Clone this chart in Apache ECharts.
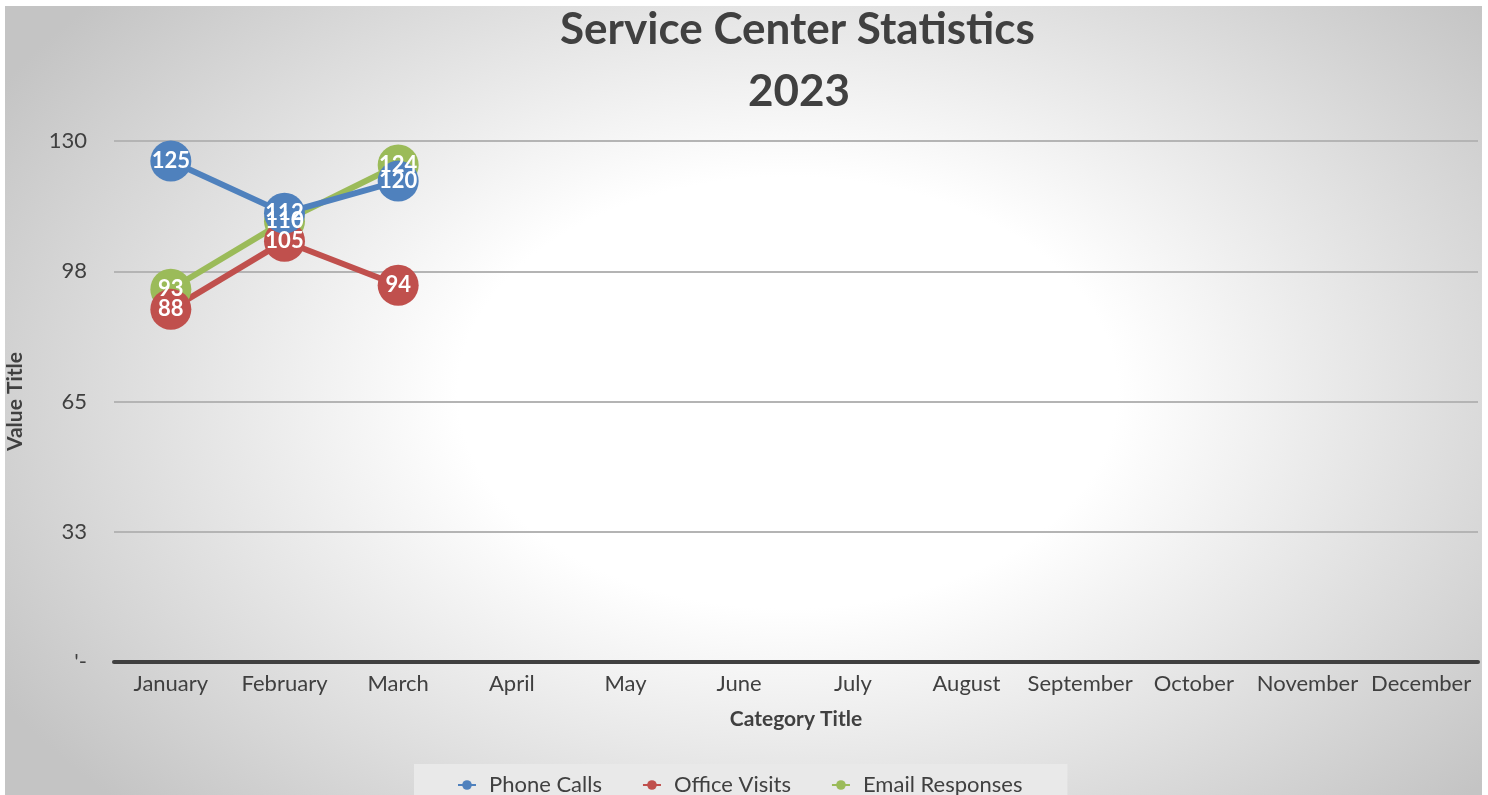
<!DOCTYPE html>
<html style="height: 100%">
<head>
    <meta charset="utf-8">
    <script src="https://cdn.jsdelivr.net/npm/echarts@6/dist/echarts.min.js"></script>
    <title>Service Center Statistics 2023</title>
</head>
<body style="height: 100%; margin: 0; background: #fff; overflow: hidden">
<div id="container" style="position: absolute; left: 5px; top: 6px; width: 1477px; height: 789px;
     background: radial-gradient(ellipse 62% 76% at 53% 49%, #ffffff 36%, #c4c4c4 100%);"></div>
<script type="text/javascript">
    let months = ['January', 'February', 'March', 'April', 'May', 'June',
        'July', 'August', 'September', 'October', 'November', 'December']
    let phoneCalls = [125, 112, 120]
    let officeVisits = [88, 105, 94]
    let emailResponses = [93, 110, 124]
    let yTicks = [0, 32.5, 65, 97.5, 130]

    let font = 'Lato'
    let textColor = '#404040'

    function makeSeries(name, values, color) {
        return {
            name: name,
            type: 'line',
            data: values,
            symbol: 'circle',
            symbolSize: 41,
            lineStyle: {color: color, width: 6},
            itemStyle: {color: color},
            label: {
                show: true,
                position: 'inside',
                color: '#fff',
                fontFamily: font,
                fontWeight: 'bold',
                fontSize: 22
            }
        }
    }

    let dom = document.getElementById("container")
    let chart = echarts.init(dom)
    chart.setOption({
        backgroundColor: 'transparent',
        animation: false,
        title: [{
            text: 'Service Center Statistics',
            left: 555,
            top: 2,
            padding: 0,
            textStyle: {fontFamily: font, fontWeight: 'bold', fontSize: 44, color: textColor, lineHeight: 44}
        }, {
            text: '2023',
            left: 743,
            top: 64,
            padding: 0,
            textStyle: {fontFamily: font, fontWeight: 'bold', fontSize: 44, color: textColor, lineHeight: 44}
        }],
        legend: {
            data: ['Phone Calls', 'Office Visits', 'Email Responses'],
            left: 409,
            top: 758,
            padding: [10, 45, 12, 43],
            itemGap: 40,
            itemWidth: 18,
            itemHeight: 12,
            backgroundColor: '#e9e9e9',
            textStyle: {fontFamily: font, fontSize: 22, color: textColor, padding: [0, 0, 0, 8]}
        },
        grid: {left: 109, right: 4, top: 135, bottom: 133, outerBoundsMode: 'none', containLabel: false},
        xAxis: {
            type: 'category',
            data: months,
            name: 'Category Title',
            nameLocation: 'middle',
            nameGap: 47,
            nameTextStyle: {fontFamily: font, fontWeight: 'bold', fontSize: 21, color: textColor},
            axisLine: {lineStyle: {color: '#404040', width: 4}},
            axisTick: {show: false},
            axisLabel: {fontFamily: font, fontSize: 22, color: textColor, margin: 11, interval: 0}
        },
        yAxis: {
            type: 'value',
            min: yTicks[0],
            max: yTicks[yTicks.length - 1],
            interval: 32.5,
            name: 'Value Title',
            nameLocation: 'middle',
            nameGap: 88,
            nameRotate: 90,
            nameTextStyle: {fontFamily: font, fontWeight: 'bold', fontSize: 21, color: textColor},
            axisLine: {show: false},
            axisTick: {show: false},
            splitLine: {lineStyle: {color: '#b4b4b4', width: 2}},
            axisLabel: {
                fontFamily: font, fontSize: 22, color: textColor, margin: 27,
                formatter: v => v === 0 ? "'-" : String(Math.round(v))
            }
        },
        // drawn bottom to top: green, red, blue
        series: [
            makeSeries('Email Responses', emailResponses, '#9BBB59'),
            makeSeries('Office Visits', officeVisits, '#C0504D'),
            makeSeries('Phone Calls', phoneCalls, '#4F81BD')
        ]
    })
</script>
</body>
</html>
